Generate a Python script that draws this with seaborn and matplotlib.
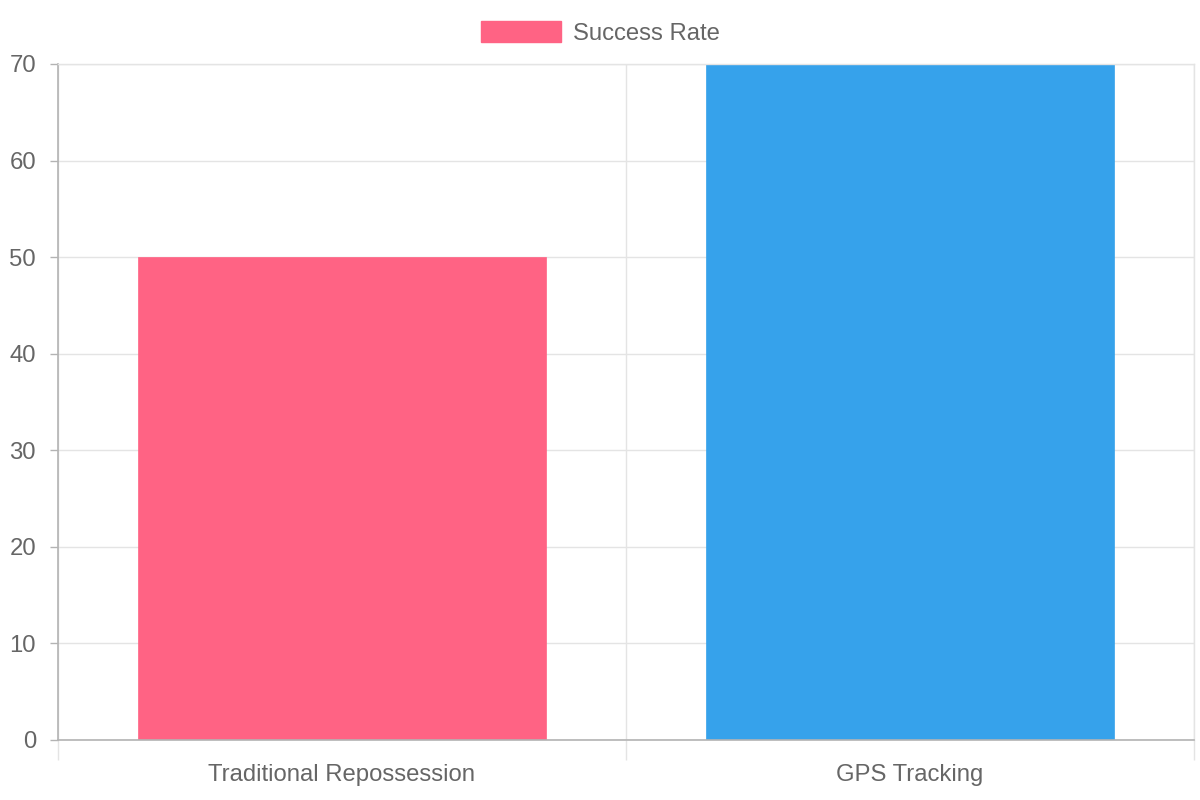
import matplotlib
matplotlib.use("Agg")
import matplotlib.pyplot as plt
import seaborn as sns
import pandas as pd
from matplotlib.patches import Patch
from matplotlib.ticker import FixedLocator, MultipleLocator

categories = ["Traditional Repossession", "GPS Tracking"]
success_rate = [50, 70]
colors = ["#FF6384", "#36A2EB"]
series_label = "Success Rate"

sns.set_style("white")
plt.rcParams["font.family"] = ["Liberation Sans", "DejaVu Sans"]

df = pd.DataFrame({"category": categories, "value": success_rate})

fig = plt.figure(figsize=(12, 8), dpi=100)
ax = fig.add_axes([58/1200, 1-740/800, (1194-58)/1200, (740-64)/800])

sns.barplot(data=df, x="category", y="value", hue="category", palette=colors,
            width=0.72, legend=False, ax=ax, saturation=1)
for p in ax.patches:
    p.set_edgecolor(p.get_facecolor())
    p.set_linewidth(0.5)

ax.set_xlim(-0.5, 1.5)
ax.set_ylim(0, 70)
ax.yaxis.set_major_locator(MultipleLocator(10))
ax.xaxis.set_minor_locator(FixedLocator([-0.5, 0.5, 1.5]))
ax.set_xlabel("")
ax.set_ylabel("")

grid_c = "#e4e4e4"
ax.grid(True, axis="y", which="major", color=grid_c, linewidth=1)
ax.grid(True, axis="x", which="minor", color=grid_c, linewidth=1)
ax.grid(False, axis="x", which="major")
ax.set_axisbelow(True)

for s in ["top", "right"]:
    ax.spines[s].set_color(grid_c)
    ax.spines[s].set_linewidth(1)
for s in ["left", "bottom"]:
    ax.spines[s].set_color("#b3b3b3")
    ax.spines[s].set_linewidth(1.2)

fs = 17.2
ax.tick_params(axis="y", which="major", length=5.8, width=1, color="#b3b3b3",
               labelsize=fs, labelcolor="#666666", pad=10, left=True)
ax.tick_params(axis="x", which="major", length=0, labelsize=fs,
               labelcolor="#666666", pad=17.5)
ax.tick_params(axis="x", which="minor", length=14.4, width=1, color=grid_c,
               bottom=True)

handle = Patch(facecolor=colors[0], edgecolor=colors[0])
fig.legend(handles=[handle], labels=[series_label], loc="center",
           bbox_to_anchor=(600/1200, 1-33/800), frameon=False,
           fontsize=fs, labelcolor="#666666", handlelength=3.35,
           handleheight=0.96, handletextpad=0.5)

fig.savefig("out.png", dpi=100)
